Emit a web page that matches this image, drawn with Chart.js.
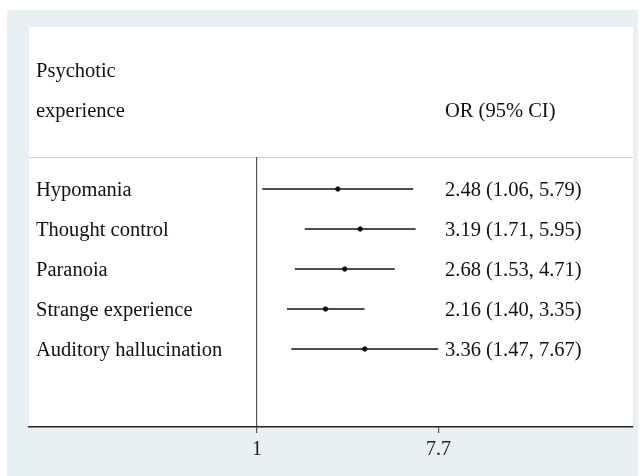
<!DOCTYPE html>
<html>
<head>
<meta charset="utf-8">
<script src="https://cdn.jsdelivr.net/npm/chart.js@4"></script>
<style>
  html, body { margin:0; padding:0; background:#fff; }
  #wrap { width:641px; height:476px; }
</style>
</head>
<body>
<div id="wrap"><canvas id="forest" width="641" height="476"></canvas></div>
<script>
// forest plot data
const outcomes = ['Hypomania', 'Thought control', 'Paranoia', 'Strange experience', 'Auditory hallucination'];
const orValues = [2.48, 3.19, 2.68, 2.16, 3.36];
const ciLow = [1.06, 1.71, 1.53, 1.40, 1.47];
const ciHigh = [5.79, 5.95, 4.71, 3.35, 7.67];
const xTicks = [1, 7.7];

const FONT = '"Liberation Serif", "Times New Roman", serif';
const BG = '#e8f0f3';

const ciSets = outcomes.map((name, i) => ({
  type: 'line',
  label: name,
  data: [{ x: ciLow[i], y: i + 1 }, { x: ciHigh[i], y: i + 1 }],
  borderColor: '#111',
  borderWidth: 1.4,
  pointRadius: 0,
  showLine: true
}));

const frame = {
  id: 'frame',
  beforeDraw(chart) {
    const c = chart.ctx, a = chart.chartArea;
    c.save();
    c.fillStyle = BG;
    c.fillRect(7, 10, 631, 466);
    c.fillStyle = '#fff';
    c.fillRect(a.left, 27, a.right - a.left, a.bottom - 27);
    // header separator
    c.strokeStyle = '#cfcfcf';
    c.lineWidth = 1;
    c.beginPath();
    c.moveTo(a.left, a.top + 0.5);
    c.lineTo(a.right, a.top + 0.5);
    c.stroke();
    c.restore();
  },
  afterDraw(chart) {
    const c = chart.ctx, y = chart.scales.y;
    c.save();
    c.fillStyle = '#111';
    c.font = '20.5px ' + FONT;
    c.textBaseline = 'middle';
    c.textAlign = 'left';
    c.fillText('Psychotic', 36, 71.5);
    c.fillText('experience', 36, 111.5);
    c.fillText('OR (95% CI)', 445, 111.5);
    outcomes.forEach((name, i) => {
      const py = y.getPixelForValue(i + 1) + 1.5;
      c.fillText(name, 36, py);
      const txt = orValues[i].toFixed(2) + ' (' + ciLow[i].toFixed(2) + ', ' + ciHigh[i].toFixed(2) + ')';
      c.fillText(txt, 445, py);
    });
    c.restore();
  }
};

new Chart(document.getElementById('forest'), {
  type: 'scatter',
  data: {
    datasets: [
      ...ciSets,
      {
        label: 'OR',
        data: orValues.map((v, i) => ({ x: v, y: i + 1 })),
        backgroundColor: '#111',
        borderColor: '#111',
        pointRadius: 2.2
      }
    ]
  },
  options: {
    responsive: false,
    animation: false,
    layout: { padding: { left: 29, right: 8, top: 157, bottom: 0 } },
    plugins: { legend: { display: false }, tooltip: { enabled: false } },
    scales: {
      x: {
        type: 'logarithmic',
        min: 0.0768,
        max: 68.7,
        afterBuildTicks(scale) { scale.ticks = xTicks.map(v => ({ value: v })); },
        afterFit(scale) { scale.height = 49; },
        grid: {
          color: ctx => (ctx.tick && ctx.tick.value === 1) ? '#555' : 'rgba(0,0,0,0)',
          tickColor: '#555',
          tickLength: 6,
          lineWidth: 1.2
        },
        border: { color: '#222', width: 1.5 },
        ticks: {
          color: '#222',
          font: { family: FONT, size: 20 },
          padding: 5,
          autoSkip: false,
          maxRotation: 0,
          callback: v => String(v)
        }
      },
      y: {
        type: 'linear',
        display: false,
        min: 0.2,
        max: 6.95,
        reverse: true
      }
    }
  },
  plugins: [frame]
});
</script>
</body>
</html>
